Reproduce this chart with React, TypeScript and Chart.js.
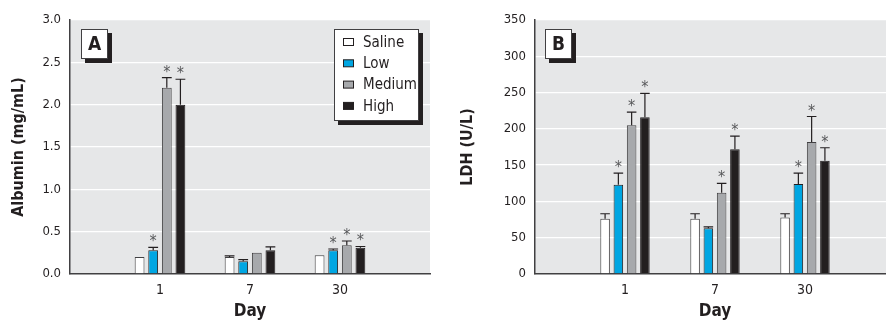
import React, { useEffect, useRef } from "react";
import { Chart, registerables } from "chart.js";
Chart.register(...registerables);

// ---------- data ----------
const days = ["", "1", "7", "30", ""];
const seriesNames = ["Saline", "Low", "Medium", "High"];
const seriesColors = ["#ffffff", "#00a6e2", "#a7a9ac", "#231f20"];
const seriesBorders = ["#414042", "#231f20", "#414042", "#231f20"];

// Panel A: Albumin (mg/mL), mean and SE per day (1, 7, 30)
const albSaline = [0.2, 0.2, 0.22];
const albLow = [0.28, 0.15, 0.28];
const albMedium = [2.2, 0.25, 0.34];
const albHigh = [2.0, 0.28, 0.31];
const albSalineErr = [0, 0.015, 0];
const albLowErr = [0.035, 0.02, 0.015];
const albMediumErr = [0.12, 0, 0.05];
const albHighErr = [0.3, 0.04, 0.015];
const albSalineSig = [false, false, false];
const albLowSig = [true, false, true];
const albMediumSig = [true, false, true];
const albHighSig = [true, false, true];
const albTicks = { min: 0, max: 3, step: 0.5 };

// Panel B: LDH (U/L)
const ldhSaline = [76, 76, 78];
const ldhLow = [123, 63, 124];
const ldhMedium = [205, 112, 182];
const ldhHigh = [216, 172, 156];
const ldhSalineErr = [7, 7, 5];
const ldhLowErr = [16, 2, 15];
const ldhMediumErr = [18, 13, 35];
const ldhHighErr = [33, 18, 18];
const ldhSalineSig = [false, false, false];
const ldhLowSig = [true, false, true];
const ldhMediumSig = [true, true, true];
const ldhHighSig = [true, true, true];
const ldhTicks = { min: 0, max: 350, step: 50 };

const FONT = "'DejaVu Sans Condensed', 'Liberation Sans', sans-serif";
const TEXT = "#231f20";

const pad = (a: any[]) => [null, ...a, null];

const bgPlugin = {
  id: "plotBg",
  beforeDraw(chart: any) {
    const { ctx, chartArea: a } = chart;
    ctx.save();
    ctx.fillStyle = "#e6e7e8";
    ctx.fillRect(a.left, a.top, a.right - a.left, a.bottom - a.top);
    ctx.restore();
  },
};

const errPlugin = {
  id: "errBars",
  afterDatasetsDraw(chart: any) {
    const { ctx } = chart;
    const y = chart.scales.y;
    ctx.save();
    chart.data.datasets.forEach((ds: any, di: number) => {
      const meta = chart.getDatasetMeta(di);
      meta.data.forEach((bar: any, i: number) => {
        const v = ds.data[i];
        if (v === null || v === undefined) return;
        const e = ds.errors[i - 1] || 0;
        const yTop = y.getPixelForValue(v);
        const yErr = y.getPixelForValue(v + e);
        const w = bar.width;
        if (e > 0) {
          ctx.strokeStyle = "#231f20";
          ctx.lineWidth = 1.2;
          ctx.beginPath();
          ctx.moveTo(bar.x, yTop);
          ctx.lineTo(bar.x, yErr);
          ctx.moveTo(bar.x - w / 2, yErr);
          ctx.lineTo(bar.x + w / 2, yErr);
          ctx.stroke();
        }
        if (ds.sig[i - 1]) {
          ctx.fillStyle = "#58595b";
          ctx.font = `16px ${FONT}`;
          ctx.textAlign = "center";
          ctx.textBaseline = "alphabetic";
          ctx.fillText("*", bar.x, Math.min(yErr, yTop) - 1);
        }
      });
    });
    ctx.restore();
  },
};

const panelLabelPlugin = {
  id: "panelLabel",
  afterDraw(chart: any, _args: any, opts: any) {
    const { ctx, chartArea: a } = chart;
    const x = a.left + opts.dx;
    const yy = a.top + 9;
    const w = 27;
    const h = 30;
    ctx.save();
    ctx.fillStyle = "#231f20";
    ctx.fillRect(x + 4, yy + 4, w, h);
    ctx.fillStyle = "#ffffff";
    ctx.fillRect(x, yy, w, h);
    ctx.strokeStyle = "#414042";
    ctx.lineWidth = 1;
    ctx.strokeRect(x + 0.5, yy + 0.5, w - 1, h - 1);
    ctx.fillStyle = TEXT;
    ctx.font = `bold 19px ${FONT}`;
    ctx.textAlign = "center";
    ctx.textBaseline = "middle";
    ctx.fillText(opts.text, x + w / 2, yy + h / 2 + 1);
    ctx.restore();
  },
};

const legendPlugin = {
  id: "boxLegend",
  afterDraw(chart: any, _args: any, opts: any) {
    if (!opts.show) return;
    const { ctx, chartArea: a } = chart;
    const x = a.right - 96;
    const yy = a.top + 9;
    const w = 85;
    const h = 92;
    ctx.save();
    ctx.fillStyle = "#231f20";
    ctx.fillRect(x + 4, yy + 4, w, h);
    ctx.fillStyle = "#ffffff";
    ctx.fillRect(x, yy, w, h);
    ctx.strokeStyle = "#414042";
    ctx.lineWidth = 1;
    ctx.strokeRect(x + 0.5, yy + 0.5, w - 1, h - 1);
    chart.data.datasets.forEach((ds: any, i: number) => {
      const cy = yy + 13 + i * 21.3;
      ctx.fillStyle = ds.backgroundColor;
      ctx.fillRect(x + 9, cy - 3.5, 10, 7);
      ctx.strokeStyle = "#231f20";
      ctx.strokeRect(x + 9.5, cy - 3.5, 10, 7);
      ctx.fillStyle = TEXT;
      ctx.font = `15px ${FONT}`;
      ctx.textAlign = "left";
      ctx.textBaseline = "middle";
      ctx.fillText(ds.label, x + 29, cy + 1);
    });
    ctx.restore();
  },
};

function makeConfig(p: any) {
  return {
    type: "bar",
    data: {
      labels: days,
      datasets: seriesNames.map((name, i) => ({
        label: name,
        data: pad(p.means[i]),
        errors: p.errs[i],
        sig: p.sigs[i],
        backgroundColor: seriesColors[i],
        borderColor: seriesBorders[i],
        borderWidth: 1,
        categoryPercentage: p.cat,
        barPercentage: 0.72,
      })),
    },
    options: {
      animation: false,
      responsive: false,
      devicePixelRatio: 1,
      layout: { padding: { top: 20, right: p.rightPad, left: 0, bottom: 0 } },
      plugins: {
        legend: { display: false },
        tooltip: { enabled: false },
        panelLabel: { text: p.panel, dx: p.labelDx },
        boxLegend: { show: p.legend },
      },
      scales: {
        x: {
          type: "category",
          offset: false,
          grid: { display: false, drawTicks: false },
          border: { display: true, color: "#414042", width: 1.5 },
          ticks: {
            font: { family: FONT, size: 14 },
            color: TEXT,
            padding: 8,
            autoSkip: false,
            maxRotation: 0,
          },
          title: {
            display: true,
            text: "Day",
            color: TEXT,
            font: { family: FONT, size: 17, weight: "bold", lineHeight: 1 },
            padding: { top: 0, bottom: 0 },
          },
          afterFit: (s: any) => {
            s.height = 46;
          },
        },
        y: {
          min: p.ticks.min,
          max: p.ticks.max,
          ticks: {
            stepSize: p.ticks.step,
            font: { family: FONT, size: 13 },
            color: TEXT,
            padding: 9,
            callback: p.fmt,
          },
          grid: { color: "#ffffff", lineWidth: 1.3, drawTicks: false },
          border: { display: true, color: "#414042", width: 1.5 },
          title: {
            display: true,
            text: p.yTitle,
            color: TEXT,
            font: { family: FONT, size: 16, weight: "bold", lineHeight: 1 },
            padding: { top: p.titlePad, bottom: 0 },
          },
          afterFit: (s: any) => {
            s.width = p.yWidth;
          },
        },
      },
    },
    plugins: [bgPlugin, errPlugin, panelLabelPlugin, legendPlugin],
  } as any;
}

function Panel(props: { cfg: any; left: number; width: number }) {
  const ref = useRef<HTMLCanvasElement>(null);
  useEffect(() => {
    if (!ref.current) return;
    const c = new Chart(ref.current, props.cfg);
    return () => c.destroy();
  }, []);
  return (
    <canvas
      ref={ref}
      width={props.width}
      height={320}
      style={{ position: "absolute", left: props.left, top: 0, width: props.width, height: 320 }}
    />
  );
}

export default function App() {
  const cfgA = makeConfig({
    means: [albSaline, albLow, albMedium, albHigh],
    errs: [albSalineErr, albLowErr, albMediumErr, albHighErr],
    sigs: [albSalineSig, albLowSig, albMediumSig, albHighSig],
    ticks: albTicks,
    fmt: (v: any) => Number(v).toFixed(1),
    yTitle: "Albumin (mg/mL)",
    panel: "A",
    labelDx: 11,
    legend: true,
    cat: 0.605,
    rightPad: 13,
    yWidth: 70,
    titlePad: 11,
  });
  const cfgB = makeConfig({
    means: [ldhSaline, ldhLow, ldhMedium, ldhHigh],
    errs: [ldhSalineErr, ldhLowErr, ldhMediumErr, ldhHighErr],
    sigs: [ldhSalineSig, ldhLowSig, ldhMediumSig, ldhHighSig],
    ticks: ldhTicks,
    fmt: (v: any) => String(Math.round(Number(v))),
    yTitle: "LDH (U/L)",
    panel: "B",
    labelDx: 10,
    legend: false,
    cat: 0.59,
    rightPad: 0,
    yWidth: 92,
    titlePad: 17,
  });
  return (
    <div
      style={{
        position: "absolute",
        left: 0,
        top: 0,
        width: 886,
        height: 320,
        overflow: "hidden",
        background: "#ffffff",
      }}
    >
      <Panel cfg={cfgA} left={0} width={443} />
      <Panel cfg={cfgB} left={443} width={460} />
    </div>
  );
}
